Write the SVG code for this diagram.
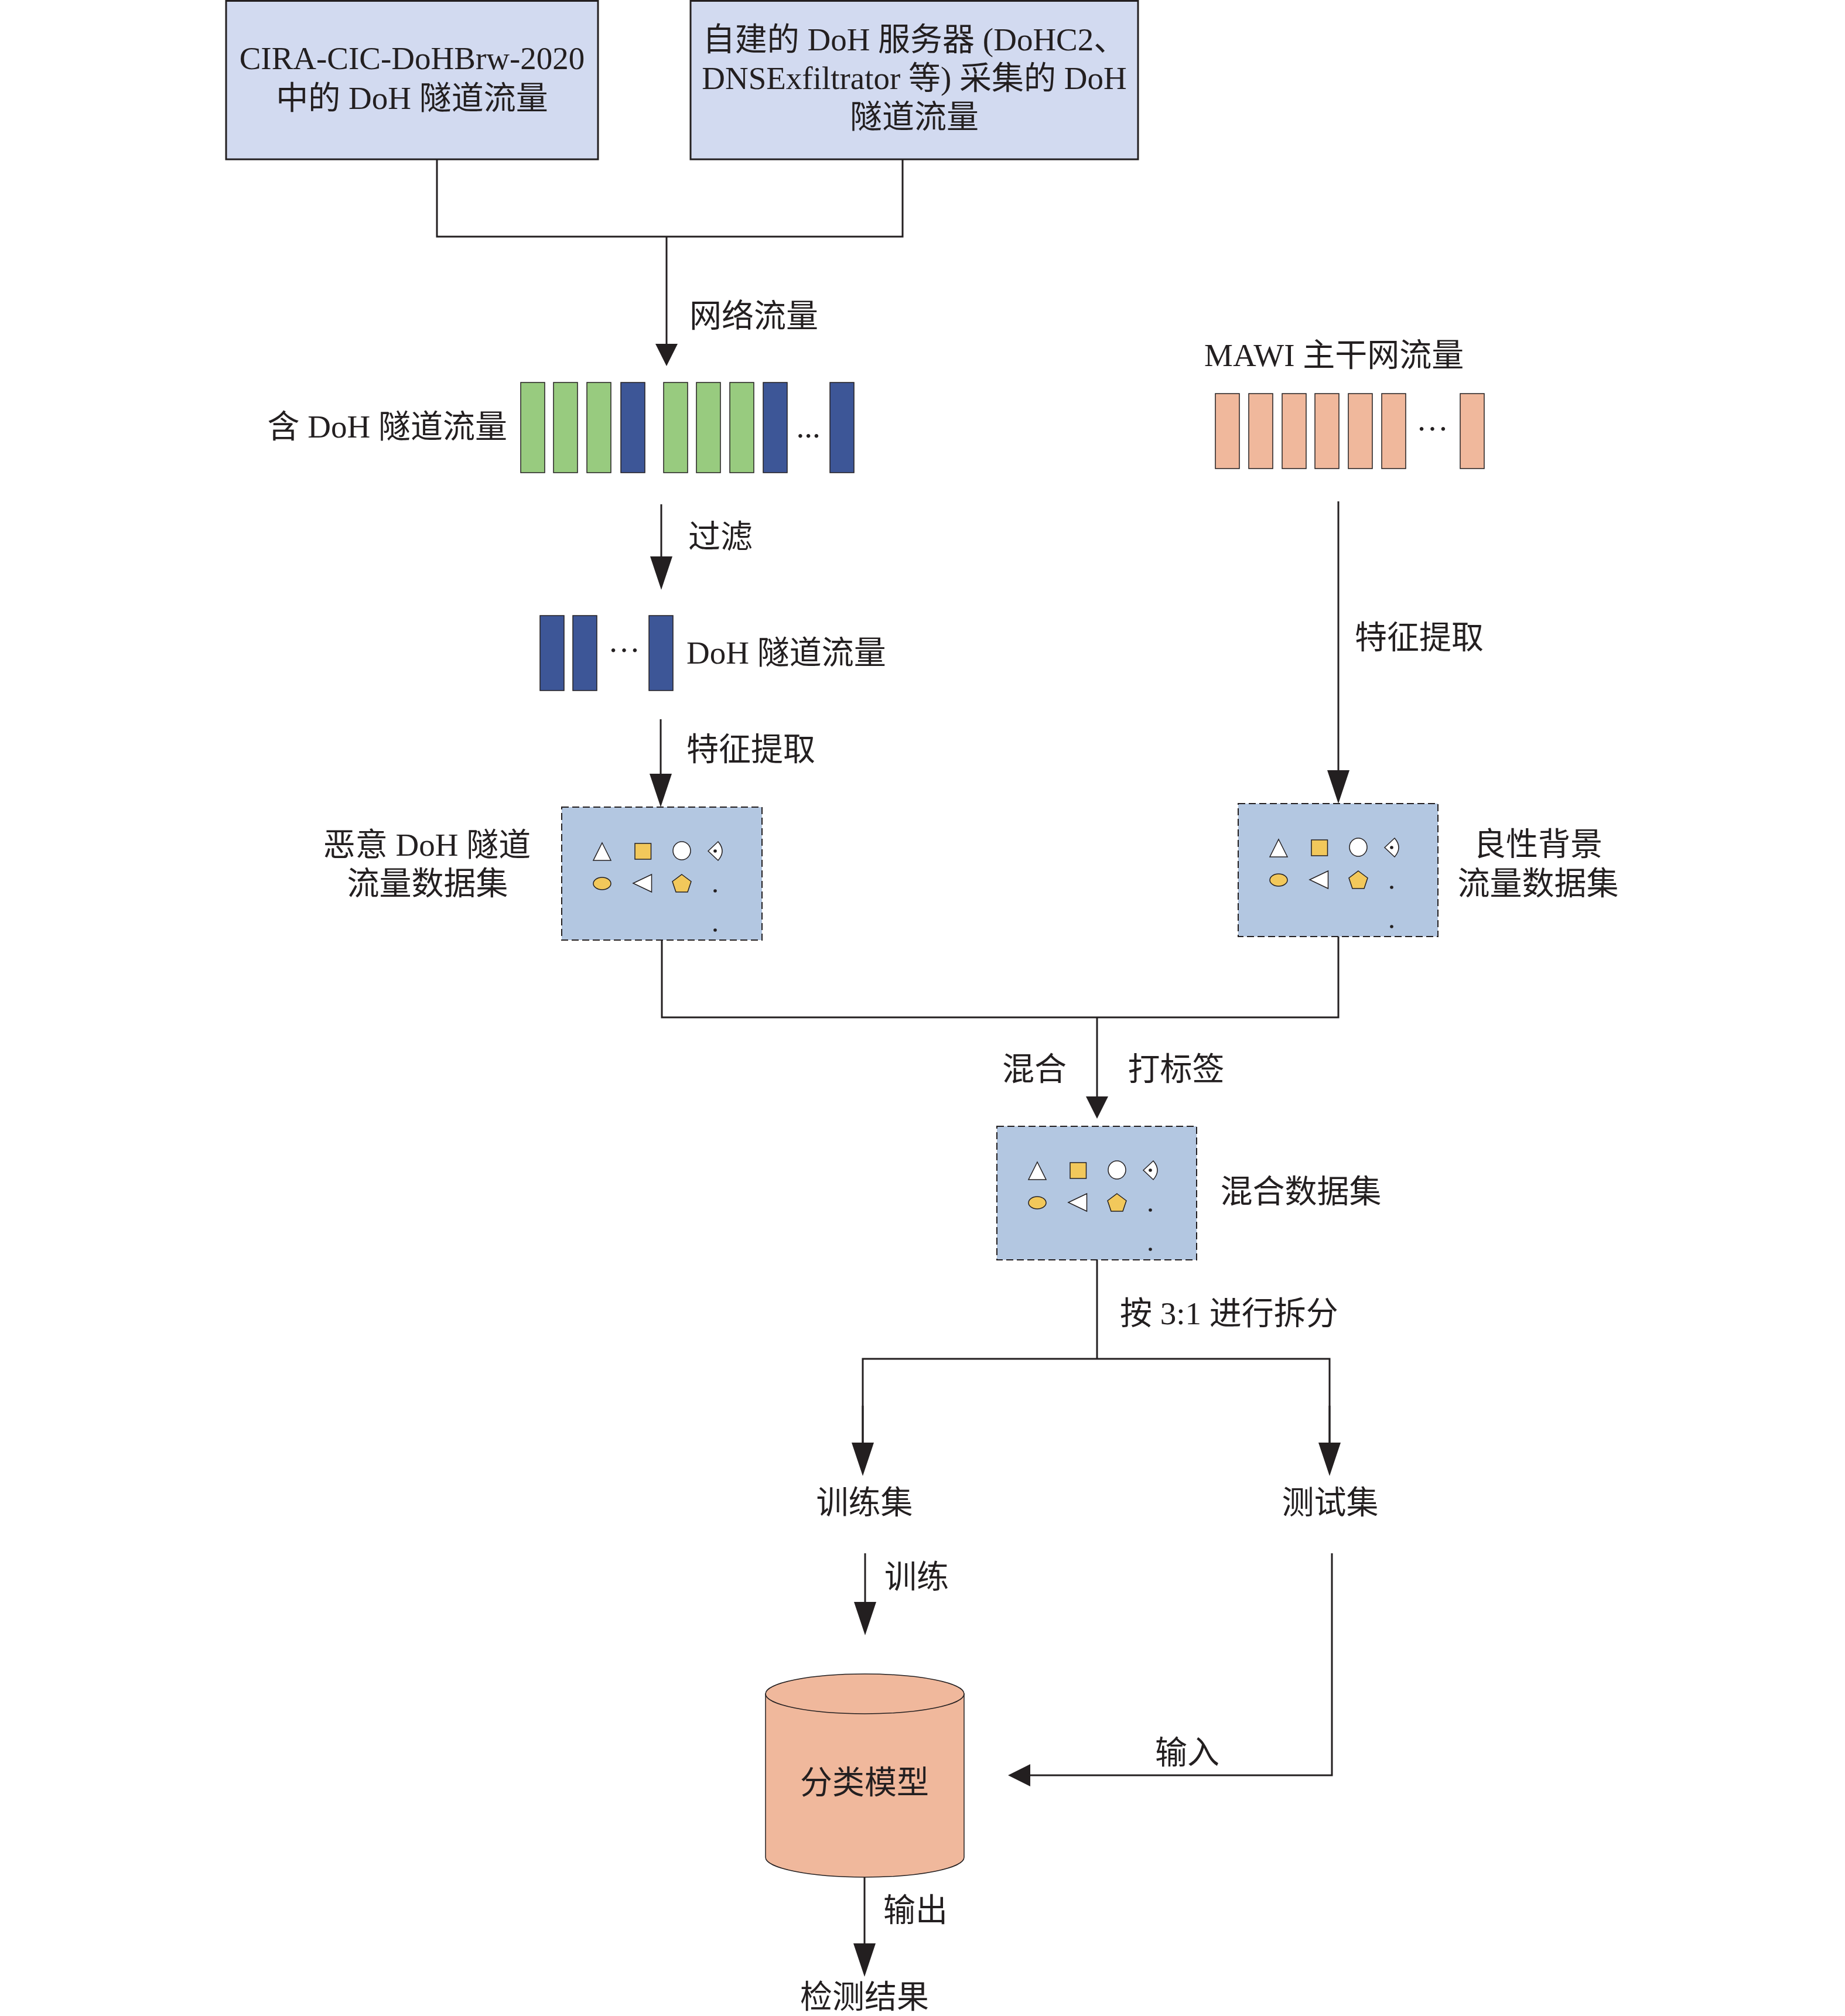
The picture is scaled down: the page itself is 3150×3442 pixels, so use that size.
<svg xmlns="http://www.w3.org/2000/svg" width="3150" height="3442" viewBox="0 0 3150 3442">
<style>
.t{font-family:'Liberation Serif','Noto Sans CJK SC',serif;font-size:55px;fill:#231f20}
.m{text-anchor:middle}
.e{text-anchor:end}
.c{stroke:#231f20;stroke-width:3;fill:none}
.bar{stroke:#231f20;stroke-width:1.5}
.g{fill:#98cb7f}.b{fill:#3d5697}.o{fill:#f0b89c}
.src{fill:#d2daf0;stroke:#231f20;stroke-width:3}
.ds{fill:#b3c7e1;stroke:#231f20;stroke-width:2;stroke-dasharray:12 6}
.sh{stroke:#231f20;stroke-width:1.5}.w{fill:#fff}.y{fill:#f2c85b}
.dot{fill:#231f20}
</style>
<defs>
<marker id="ah" markerUnits="userSpaceOnUse" markerWidth="38" markerHeight="38" viewBox="0 0 38 38" refX="28" refY="19" orient="auto"><path d="M0,0 L38,19 L0,38 Z" fill="#231f20"/></marker>
<marker id="al" markerUnits="userSpaceOnUse" markerWidth="57" markerHeight="38" viewBox="0 0 57 38" refX="47" refY="19" orient="auto"><path d="M0,0 L57,19 L0,38 Z" fill="#231f20"/></marker>
<g id="shapes">
<path class="sh w" d="M69,61 L84,91 L54,91 Z"/>
<rect class="sh y" x="125" y="62" width="27.5" height="27"/>
<ellipse class="sh w" cx="205" cy="74.5" rx="15" ry="15.5"/>
<path class="sh w" d="M250,75 L267,59 Q281,75 267,91 Z"/>
<circle class="dot" cx="262" cy="75" r="2.8"/>
<ellipse class="sh y" cx="69" cy="130.5" rx="15" ry="10.5"/>
<path class="sh w" d="M122,130 L153.5,115 L153.5,145 Z"/>
<path class="sh y" d="M205,115 L221,127 L215,145 L195,145 L189,127 Z"/>
<circle class="dot" cx="262" cy="143" r="2.8"/>
<circle class="dot" cx="262" cy="210" r="2.8"/>
</g>
</defs>

<g id="connectors">
<polyline class="c" points="746,272 746,404 1541,404 1541,272"/>
<line class="c" x1="1138" y1="404" x2="1138" y2="615" marker-end="url(#ah)"/>
<line class="c" x1="1129" y1="861" x2="1129" y2="997" marker-end="url(#al)"/>
<line class="c" x1="1128" y1="1228" x2="1128" y2="1368" marker-end="url(#al)"/>
<line class="c" x1="2285" y1="856" x2="2285" y2="1362" marker-end="url(#al)"/>
<polyline class="c" points="1130,1605 1130,1737 2285,1737 2285,1599"/>
<line class="c" x1="1873" y1="1737" x2="1873" y2="1900" marker-end="url(#ah)"/>
<line class="c" x1="1873" y1="2151" x2="1873" y2="2320"/>
<polyline class="c" points="1473,2510 1473,2320 2270,2320 2270,2510"/>
<line class="c" x1="1473" y1="2400" x2="1473" y2="2510" marker-end="url(#al)"/>
<line class="c" x1="2270" y1="2400" x2="2270" y2="2510" marker-end="url(#al)"/>
<line class="c" x1="1477" y1="2652" x2="1477" y2="2782" marker-end="url(#al)"/>
<polyline class="c" points="2274,2652 2274,3031 1731,3031" marker-end="url(#ah)"/>
<line class="c" x1="1476" y1="3205" x2="1476" y2="3365" marker-end="url(#al)"/>
</g>

<g id="src1">
<rect class="src" x="386" y="1.5" width="635" height="270.5"/>
<text class="t m" x="703.5" y="118">CIRA-CIC-DoHBrw-2020</text>
<text class="t m" x="703.5" y="186">中的 DoH 隧道流量</text>
</g>
<g id="src2">
<rect class="src" x="1179" y="1.5" width="764" height="270.5"/>
<text class="t m" x="1561" y="86">自建的 DoH 服务器 (DoHC2、</text>
<text class="t m" x="1561" y="152">DNSExfiltrator 等) 采集的 DoH</text>
<text class="t m" x="1561" y="218">隧道流量</text>
</g>

<g id="label-net">
<text class="t" x="1177" y="558">网络流量</text>
</g>

<g id="mixed-traffic">
<text class="t e" x="866" y="747">含 DoH 隧道流量</text>
<rect class="bar g" x="889" y="653" width="41" height="154"/>
<rect class="bar g" x="945" y="653" width="41" height="154"/>
<rect class="bar g" x="1002" y="653" width="41" height="154"/>
<rect class="bar b" x="1060" y="653" width="41" height="154"/>
<rect class="bar g" x="1133" y="653" width="41" height="154"/>
<rect class="bar g" x="1189" y="653" width="41" height="154"/>
<rect class="bar g" x="1246" y="653" width="41" height="154"/>
<rect class="bar b" x="1303" y="653" width="41" height="154"/>
<text class="t" x="1359.5" y="747">...</text>
<rect class="bar b" x="1417" y="653" width="41" height="154"/>
</g>

<g id="mawi">
<text class="t" x="2056" y="625">MAWI 主干网流量</text>
<rect class="bar o" x="2075" y="672" width="41" height="128"/>
<rect class="bar o" x="2132" y="672" width="41" height="128"/>
<rect class="bar o" x="2189" y="672" width="41" height="128"/>
<rect class="bar o" x="2245" y="672" width="41" height="128"/>
<rect class="bar o" x="2302" y="672" width="41" height="128"/>
<rect class="bar o" x="2359" y="672" width="41" height="128"/>
<text class="t" x="2418" y="735">…</text>
<rect class="bar o" x="2493" y="672" width="41" height="128"/>
</g>

<g id="label-filter"><text class="t" x="1175" y="935">过滤</text></g>

<g id="doh-traffic">
<rect class="bar b" x="922" y="1051" width="41" height="128"/>
<rect class="bar b" x="978" y="1051" width="41" height="128"/>
<text class="t" x="1038" y="1113">…</text>
<rect class="bar b" x="1108" y="1051" width="41" height="128"/>
<text class="t" x="1172" y="1133">DoH 隧道流量</text>
</g>

<g id="label-fe1"><text class="t" x="1172" y="1298">特征提取</text></g>
<g id="label-fe2"><text class="t" x="2313" y="1107">特征提取</text></g>

<g id="mal-dataset">
<rect class="ds" x="959" y="1378" width="342" height="227"/>
<use href="#shapes" x="959" y="1378"/>
<text class="t m" x="729" y="1461">恶意 DoH 隧道</text>
<text class="t m" x="730" y="1527">流量数据集</text>
</g>

<g id="ben-dataset">
<rect class="ds" x="2114" y="1372" width="341" height="227"/>
<use href="#shapes" x="2114" y="1372"/>
<text class="t m" x="2626" y="1460">良性背景</text>
<text class="t m" x="2626" y="1527">流量数据集</text>
</g>

<g id="label-mix">
<text class="t m" x="1766" y="1844">混合</text>
<text class="t m" x="2008" y="1844">打标签</text>
</g>

<g id="mix-dataset">
<rect class="ds" x="1702" y="1923" width="341" height="228"/>
<use href="#shapes" x="1702" y="1923"/>
<text class="t m" x="2221" y="2053">混合数据集</text>
</g>

<g id="label-split"><text class="t" x="1912" y="2261">按 3:1 进行拆分</text></g>

<g id="train-set"><text class="t m" x="1476" y="2584">训练集</text></g>
<g id="test-set"><text class="t m" x="2271" y="2584">测试集</text></g>
<g id="label-train"><text class="t" x="1510" y="2711">训练</text></g>

<g id="model">
<path d="M1307,2892 L1307,3171 A169.5,34 0 0 0 1646,3171 L1646,2892 Z" fill="#f0b89c" stroke="#231f20" stroke-width="1.5"/>
<ellipse cx="1476.5" cy="2892" rx="169.5" ry="34" fill="#f0b89c" stroke="#231f20" stroke-width="1.5"/>
<text class="t m" x="1476" y="3062">分类模型</text>
</g>

<g id="label-input"><text class="t m" x="2027" y="3011">输入</text></g>
<g id="label-output"><text class="t" x="1508" y="3280">输出</text></g>
<g id="result"><text class="t m" x="1476" y="3428">检测结果</text></g>
</svg>
